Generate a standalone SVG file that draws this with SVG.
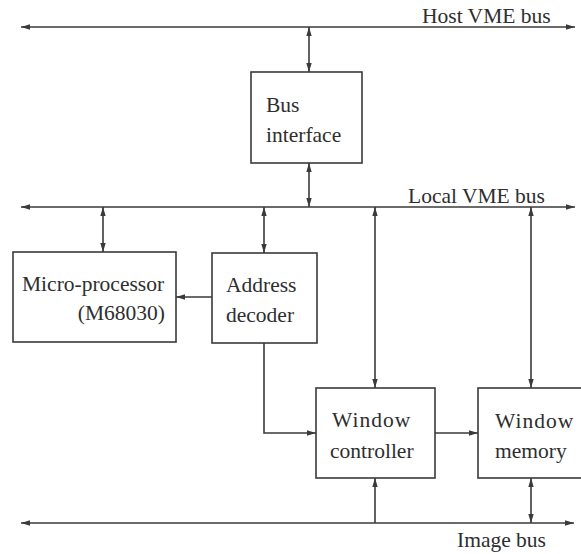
<svg xmlns="http://www.w3.org/2000/svg" width="581" height="554" viewBox="0 0 581 554" font-family="'Liberation Serif', 'Times New Roman', Times, serif">
<style>
.box{fill:#fff;stroke:#3a3a3a;stroke-width:1.6}
.ln{fill:none;stroke:#3a3a3a;stroke-width:1.6}
.bi{marker-start:url(#ah);marker-end:url(#ah)}
.one{marker-end:url(#ah)}
text{font-family:'Liberation Serif', 'Times New Roman', Times, serif;font-size:21.5px;fill:#2e2e2e}
</style>
<defs>
<marker id="ah" markerUnits="userSpaceOnUse" markerWidth="10" markerHeight="6" refX="9" refY="3" orient="auto-start-reverse">
<path d="M0,0.3 L9,3 L0,5.7 z" fill="#3a3a3a"/>
</marker>
</defs>
<rect width="581" height="554" fill="#fff"/>
<g id="connectors">
<line class="ln bi" x1="21" y1="27" x2="575" y2="27"/>
<line class="ln bi" x1="309" y1="27" x2="309" y2="72"/>
<line class="ln bi" x1="309" y1="163" x2="309" y2="207"/>
<line class="ln bi" x1="21" y1="207" x2="575" y2="207"/>
<line class="ln bi" x1="103" y1="207" x2="103" y2="252"/>
<line class="ln bi" x1="264" y1="207" x2="264" y2="253"/>
<line class="ln bi" x1="375" y1="207" x2="375" y2="388"/>
<line class="ln bi" x1="531" y1="207" x2="531" y2="388"/>
<line class="ln one" x1="212" y1="297" x2="176" y2="297"/>
<path class="ln one" d="M264,343 V433 H316"/>
<line class="ln one" x1="435" y1="433" x2="478" y2="433"/>
<line class="ln bi" x1="21" y1="523" x2="574" y2="523"/>
<line class="ln one" x1="375" y1="523" x2="375" y2="478"/>
<line class="ln bi" x1="531" y1="478" x2="531" y2="523"/>
</g>
<g id="labels">
<text x="422" y="23">Host VME bus</text>
<text x="408" y="203">Local VME bus</text>
<text x="457" y="547">Image bus</text>
</g>
<g id="bus-interface">
<rect class="box" x="251" y="72" width="111" height="91"/>
<text x="266" y="112">Bus</text>
<text x="266" y="142">interface</text>
</g>
<g id="micro-processor">
<rect class="box" x="13" y="252" width="163" height="90"/>
<text x="22" y="291">Micro-processor</text>
<text x="165" y="320" text-anchor="end">(M68030)</text>
</g>
<g id="address-decoder">
<rect class="box" x="212" y="253" width="105" height="90"/>
<text x="226" y="292">Address</text>
<text x="226" y="322">decoder</text>
</g>
<g id="window-controller">
<rect class="box" x="316" y="388" width="119" height="90"/>
<text x="332" y="427" letter-spacing="1">Window</text>
<text x="330" y="458">controller</text>
</g>
<g id="window-memory">
<rect class="box" x="478" y="388" width="110" height="90"/>
<text x="495" y="428" letter-spacing="1">Window</text>
<text x="495" y="458">memory</text>
</g>
</svg>
